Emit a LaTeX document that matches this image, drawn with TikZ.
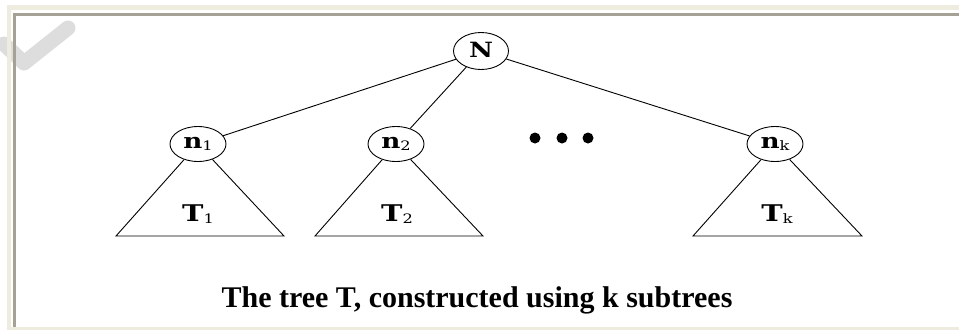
\documentclass[tikz,border=0pt]{standalone}
\usepackage{fontspec}
\setmainfont{Liberation Serif}
\newfontfamily\labelfont{DejaVu Serif}
\usetikzlibrary{shapes.geometric}
\definecolor{framebeige}{RGB}{238,236,222}
\definecolor{framegray}{RGB}{165,161,148}
\definecolor{markgray}{RGB}{221,221,221}
% wide bold serif label with a lighter, slightly lowered index
\newcommand{\widelabel}[2]{\scalebox{1.25}[1]{\labelfont\bfseries #1\raisebox{-2pt}{\labelfont\mdseries\fontsize{13}{13}\selectfont #2}}}
\tikzset{
  treenode/.style={draw, ellipse, inner sep=0pt, minimum width=56pt, minimum height=35pt, line width=0.9pt},
  edge/.style={line width=0.9pt},
  subtree/.style={line width=0.9pt, line join=miter},
  lbl/.style={font=\fontsize{21}{21}\selectfont},
  sublbl/.style={font=\fontsize{23}{23}\selectfont},
  caption/.style={font=\bfseries\fontsize{30}{30}\selectfont},
}
\begin{document}
\begin{tikzpicture}[x=1pt,y=-1pt]
\useasboundingbox (0,0) rectangle (959,330);
\fill[white] (0,0) rectangle (959,330);
% faint check mark in the top left corner
\draw[markgray, line width=15pt, line cap=round, line join=round] (4,44) -- (24,63) -- (68,28);
% frame: beige outer band, grey inset line on the top and left
\fill[framebeige] (7,5) rectangle (959,9.5);
\fill[framebeige] (7,5) rectangle (11,330);
\fill[framebeige] (11,327) rectangle (959,330);
\fill[framegray] (13,13) rectangle (959,15.5);
\fill[framegray] (13,13) rectangle (15.5,327);

% nodes
\node[treenode, minimum width=55pt, minimum height=37pt, lbl] (N) at (481,51) {\widelabel{N}{}};
\node[treenode, lbl] (n1) at (198,144) {\widelabel{n}{1}};
\node[treenode, lbl] (n2) at (396,144) {\widelabel{n}{2}};
\node[treenode, lbl] (nk) at (775,144) {\widelabel{n}{k}};

% edges from the root
\draw[edge] (N) -- (n1);
\draw[edge] (N) -- (n2);
\draw[edge] (N) -- (nk);

% subtrees
\coordinate (b1l) at (116,236); \coordinate (b1r) at (284,236);
\coordinate (b2l) at (315,236); \coordinate (b2r) at (483,236);
\coordinate (bkl) at (693,236); \coordinate (bkr) at (862,236);
\draw[subtree] (n1) -- (b1l) -- (b1r) -- (n1);
\draw[subtree] (n2) -- (b2l) -- (b2r) -- (n2);
\draw[subtree] (nk) -- (bkl) -- (bkr) -- (nk);
\node[sublbl] (t1) at (198,214) {\widelabel{T}{1}};
\node[sublbl] (t2) at (397,214) {\widelabel{T}{2}};
\node[sublbl] (tk) at (777,214) {\widelabel{T}{k}};

% ellipsis between n2 and nk
\foreach \x in {535,562,588} \fill (\x,138) circle (5.5pt);

% caption
\node[caption] (cap) at (477,300) {The tree T, constructed using k subtrees};
\end{tikzpicture}
\end{document}
